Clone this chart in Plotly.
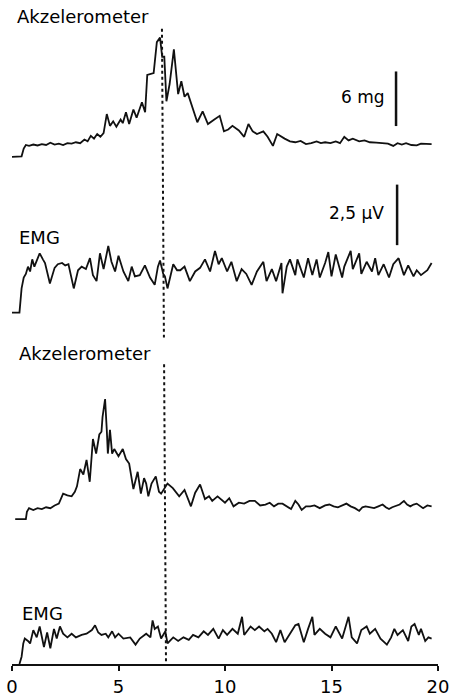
import plotly.graph_objects as go

# ---------------------------------------------------------------------------
# Recorded signals (time in s, acceleration in mg, EMG in µV above rest level)
# ---------------------------------------------------------------------------
acc1_t = [0.0, 0.45, 0.55, 0.65, 0.8, 1.0, 1.2, 1.4, 1.6, 1.8, 2.0, 2.2, 2.4, 2.6, 2.8, 3.0,
          3.2, 3.4, 3.55, 3.7, 3.85, 4.0, 4.15, 4.3, 4.45, 4.6, 4.75, 4.9, 5.1, 5.2, 5.35,
          5.5, 5.7, 5.85, 6.1, 6.25, 6.35, 6.5, 6.65, 6.8, 6.95, 7.05, 7.15, 7.25, 7.4, 7.6,
          7.7, 7.8, 7.95, 8.1, 8.25, 8.4, 8.55, 8.7, 8.95, 9.2, 9.5, 9.75, 9.95, 10.15, 10.35,
          10.65, 10.9, 11.1, 11.3, 11.5, 11.8, 12.0, 12.25, 12.45, 12.8, 13.05, 13.3, 13.55,
          13.8, 14.05, 14.3, 14.5, 14.7, 14.95, 15.2, 15.4, 15.6, 15.8, 16.0, 16.3, 16.55,
          16.8, 17.1, 17.4, 17.65, 17.9, 18.1, 18.3, 18.5, 18.75, 19.0, 19.2, 19.4, 19.7]
acc1_mg = [0.0, 0.05, 0.9, 1.3, 1.2, 1.35, 1.25, 1.4, 1.3, 1.55, 1.35, 1.45, 1.3, 1.5, 1.45, 1.6,
           1.5, 1.9, 1.7, 2.3, 2.0, 2.5, 2.2, 2.6, 4.7, 3.4, 3.9, 3.3, 4.1, 3.7, 4.9,
           3.6, 5.2, 4.3, 6.0, 4.9, 9.0, 9.1, 9.2, 12.6, 13.1, 11.0, 11.0, 6.1, 8.0, 11.8,
           9.0, 6.9, 8.3, 6.6, 7.0, 6.0, 5.0, 3.8, 5.0, 3.6, 4.1, 4.5, 2.8, 3.0, 3.4,
           2.9, 2.2, 3.6, 2.8, 2.5, 2.8, 2.2, 1.2, 2.5, 2.0, 1.7, 1.6, 1.75,
           1.4, 1.5, 1.7, 1.5, 1.6, 1.5, 1.7, 1.5, 2.2, 1.8, 2.0, 1.7, 1.8,
           1.6, 1.55, 1.5, 1.45, 1.2, 1.5, 1.35, 1.5, 1.3, 1.25, 1.45, 1.4, 1.4]

emg1_t = [0.0, 0.35, 0.45, 0.55, 0.65, 0.75, 0.85, 0.95, 1.05, 1.3, 1.45, 1.55, 1.78, 2.0, 2.15,
          2.35, 2.5, 2.65, 2.9, 3.1, 3.27, 3.47, 3.66, 3.8, 3.97, 4.13, 4.3, 4.4, 4.52, 4.67,
          4.84, 5.0, 5.23, 5.46, 5.62, 5.77, 6.0, 6.24, 6.48, 6.7, 6.85, 6.95, 7.1, 7.18, 7.3,
          7.57, 7.75, 7.9, 8.1, 8.35, 8.6, 8.83, 9.06, 9.3, 9.53, 9.7, 9.85, 10.1, 10.3, 10.55,
          10.78, 11.0, 11.25, 11.5, 11.8, 11.95, 12.2, 12.4, 12.65, 12.7, 12.9, 13.05, 13.3,
          13.4, 13.7, 13.9, 14.1, 14.3, 14.45, 14.7, 14.85, 15.0, 15.2, 15.5, 15.6, 15.9, 16.0,
          16.3, 16.4, 16.65, 16.9, 17.05, 17.2, 17.45, 17.7, 17.9, 18.15, 18.4, 18.6, 18.85,
          19.0, 19.2, 19.5, 19.7]
emg1_uv = [0.0, 0.0, 1.0, 1.45, 1.6, 1.9, 1.7, 2.2, 1.9, 2.45, 2.2, 2.05, 1.2, 1.85, 2.0,
           2.05, 1.95, 2.0, 1.0, 1.75, 1.9, 1.8, 2.25, 1.55, 1.3, 2.45, 1.8, 2.2, 2.75, 2.1,
           1.7, 2.35, 1.7, 1.3, 1.9, 1.5, 1.55, 1.95, 1.45, 1.15, 1.9, 2.15, 1.6, 1.5, 1.0,
           2.0, 1.75, 1.75, 1.9, 1.3, 1.7, 1.85, 2.2, 1.7, 2.55, 2.0, 2.25, 1.7, 2.1, 1.3,
           1.8, 1.6, 1.15, 1.7, 2.1, 1.3, 1.8, 1.3, 2.05, 0.8, 1.9, 2.2, 1.55,
           2.2, 1.45, 2.25, 1.55, 2.2, 1.45, 2.05, 2.5, 1.5, 2.4, 1.45, 1.9, 2.55, 1.8,
           2.45, 1.6, 2.1, 1.7, 2.25, 1.55, 2.0, 1.45, 2.0, 2.25, 1.55, 1.95, 1.5,
           1.75, 1.55, 1.75, 2.05]

acc2_t = [0.15, 0.65, 0.7, 0.8, 1.0, 1.2, 1.4, 1.6, 1.8, 2.0, 2.2, 2.4, 2.6, 2.8, 2.95, 3.05,
          3.2, 3.35, 3.5, 3.65, 3.8, 3.95, 4.1, 4.2, 4.25, 4.37, 4.45, 4.5, 4.6, 4.7, 4.8,
          5.0, 5.2, 5.35, 5.5, 5.7, 5.9, 6.05, 6.2, 6.3, 6.4, 6.55, 6.75, 6.9, 7.0, 7.15,
          7.3, 7.55, 7.85, 8.1, 8.4, 8.6, 8.83, 9.06, 9.25, 9.4, 9.65, 10.0, 10.2, 10.4,
          10.65, 10.9, 11.15, 11.4, 11.65, 11.9, 12.1, 12.3, 12.5, 12.7, 12.9, 13.1, 13.3,
          13.45, 13.6, 13.8, 14.0, 14.2, 14.45, 14.7, 14.9, 15.1, 15.3, 15.5, 15.7, 15.9,
          16.1, 16.3, 16.45, 16.6, 16.8, 17.0, 17.2, 17.4, 17.55, 17.7, 17.85, 18.0, 18.2,
          18.4, 18.55, 18.7, 18.85, 19.0, 19.15, 19.3, 19.5, 19.7]
acc2_mg = [0.0, 0.0, 0.8, 1.2, 1.0, 1.2, 1.1, 1.3, 1.2, 1.5, 1.7, 2.8, 2.6, 2.5, 3.0, 3.6,
           5.5, 4.9, 6.5, 4.1, 8.8, 7.2, 9.3, 9.6, 11.2, 13.2, 9.8, 7.2, 9.8, 7.2, 7.7,
           6.9, 7.7, 6.6, 6.1, 3.3, 5.2, 2.8, 4.5, 3.9, 2.5, 3.9, 4.7, 3.0, 2.8, 3.4,
           3.9, 3.4, 2.5, 3.2, 1.4, 2.9, 3.8, 2.2, 2.5, 2.0, 2.5, 1.8, 2.3, 1.4,
           1.8, 1.7, 2.0, 2.0, 1.5, 1.6, 1.8, 1.4, 1.7, 1.7, 1.4, 1.1, 2.0,
           1.6, 1.0, 1.4, 1.4, 1.5, 1.2, 1.5, 1.6, 1.4, 1.3, 1.5, 1.7, 1.4,
           1.2, 0.9, 1.3, 1.4, 1.3, 1.2, 1.4, 1.6, 1.3, 1.1, 1.3, 1.4, 1.6,
           2.0, 1.6, 1.4, 1.6, 1.7, 1.4, 1.2, 1.5, 1.4]

emg2_t = [0.35, 0.45, 0.53, 0.6, 0.75, 0.85, 1.0, 1.16, 1.3, 1.5, 1.65, 1.8, 1.97, 2.1, 2.25,
          2.4, 2.6, 2.8, 3.0, 3.27, 3.5, 3.75, 3.9, 4.05, 4.2, 4.4, 4.52, 4.7, 4.84, 5.0,
          5.23, 5.55, 5.8, 6.0, 6.3, 6.5, 6.6, 6.7, 6.85, 7.0, 7.2, 7.3, 7.57, 7.8, 8.05,
          8.3, 8.5, 8.75, 9.0, 9.2, 9.45, 9.7, 9.9, 10.1, 10.35, 10.6, 10.8, 10.9, 11.2,
          11.4, 11.6, 11.85, 12.0, 12.2, 12.4, 12.6, 12.8, 13.05, 13.3, 13.45, 13.7, 13.9,
          14.1, 14.2, 14.45, 14.7, 14.95, 15.2, 15.5, 15.7, 15.8, 15.95, 16.2, 16.4, 16.65,
          16.8, 17.05, 17.3, 17.6, 17.8, 17.95, 18.1, 18.35, 18.6, 18.75, 18.9, 19.1, 19.2,
          19.4, 19.55, 19.7]
emg2_uv = [0.0, 0.3, 0.85, 1.05, 0.95, 0.85, 1.4, 1.1, 1.55, 0.7, 1.3, 0.65, 1.45, 1.05, 1.55,
           1.25, 1.1, 1.25, 1.1, 1.2, 1.25, 1.4, 1.6, 1.3, 1.2, 1.25, 1.1, 1.35, 1.1, 1.25,
           1.05, 1.1, 0.8, 1.05, 1.25, 1.1, 1.8, 1.45, 1.55, 1.05, 1.35, 0.85, 1.1, 0.95, 1.1,
           1.0, 1.2, 1.1, 1.35, 1.2, 1.45, 1.05, 1.4, 1.2, 1.45, 1.25, 1.95, 1.2, 1.55,
           1.4, 1.55, 1.35, 1.45, 1.25, 0.9, 1.4, 0.9, 1.25, 1.6, 1.65, 0.9, 1.45,
           1.95, 1.2, 1.45, 1.25, 1.1, 1.55, 1.05, 1.65, 1.95, 1.1, 0.85, 1.4, 1.55,
           1.25, 1.45, 1.05, 0.8, 1.1, 1.45, 1.2, 1.4, 0.95, 1.55, 1.65, 1.2, 1.45,
           0.95, 1.1, 1.05]

# Calibration bars
scale_acc_mg = 6
scale_emg_uv = 2.5

# Time axis ticks
tick_vals = [0, 5, 10, 15, 20]
tick_text = ["0", "5", "10", "15", "20"]

# Time of the marked event
event_t = (7.04, 7.23)

# ---------------------------------------------------------------------------
# Page geometry
# ---------------------------------------------------------------------------
W, H = 452, 697
M_L, M_R, M_T, M_B = 12, 14, 0, 28
PLOT_H = H - M_T - M_B

ACC_PX_PER_MG = 55 / scale_acc_mg
EMG_PX_PER_UV = 61 / scale_emg_uv


def y_range(zero_px, px_per_unit):
    """Axis range placing value 0 at zero_px pixels below the top of the plot."""
    return [-(PLOT_H - zero_px) / px_per_unit, zero_px / px_per_unit]


# zero line (pixels from top) of each channel
ACC1_ZERO, EMG1_ZERO, ACC2_ZERO, EMG2_ZERO = 158, 315, 523, 669

INK = "#111111"
FONT = "DejaVu Sans"

fig = go.Figure()
for t, v, ax in [(acc1_t, acc1_mg, "y"), (emg1_t, emg1_uv, "y2"),
                 (acc2_t, acc2_mg, "y3"), (emg2_t, emg2_uv, "y4")]:
    fig.add_trace(go.Scatter(x=t, y=v, yaxis=ax, mode="lines",
                             line=dict(color=INK, width=1.8), hoverinfo="skip"))

hidden = dict(visible=False, fixedrange=True, showgrid=False, zeroline=False)
fig.update_layout(
    width=W, height=H,
    margin=dict(l=M_L, r=M_R, t=M_T, b=M_B, pad=0),
    paper_bgcolor="white", plot_bgcolor="white",
    showlegend=False,
    xaxis=dict(range=[0, 20], tickvals=tick_vals, ticktext=tick_text,
               showline=True, linecolor=INK, linewidth=2,
               ticks="outside", ticklen=5, tickwidth=2, tickcolor=INK,
               tickfont=dict(family=FONT, size=18, color="black"),
               showgrid=False, zeroline=False, fixedrange=True),
    yaxis=dict(range=y_range(ACC1_ZERO, ACC_PX_PER_MG), **hidden),
    yaxis2=dict(range=y_range(EMG1_ZERO, EMG_PX_PER_UV), overlaying="y", **hidden),
    yaxis3=dict(range=y_range(ACC2_ZERO, ACC_PX_PER_MG), overlaying="y", **hidden),
    yaxis4=dict(range=y_range(EMG2_ZERO, EMG_PX_PER_UV), overlaying="y", **hidden),
)

# Dotted event marker, interrupted by the second channel title
def paper_y(px_from_top):
    return 1 - px_from_top / PLOT_H


def t_at(px_from_top, top=29, bottom=PLOT_H):
    f = (px_from_top - top) / (bottom - top)
    return event_t[0] + f * (event_t[1] - event_t[0])


for a, b in [(29, 340), (367, PLOT_H)]:
    fig.add_shape(type="line", xref="x", yref="paper",
                  x0=t_at(a), y0=paper_y(a), x1=t_at(b), y1=paper_y(b),
                  line=dict(color=INK, width=2, dash="dot"))

# Calibration bars
acc_bar_base = (ACC1_ZERO - 127) / ACC_PX_PER_MG
emg_bar_base = (EMG1_ZERO - 247) / EMG_PX_PER_UV
fig.add_shape(type="line", xref="x", yref="y", x0=18.03, x1=18.03,
              y0=acc_bar_base, y1=acc_bar_base + scale_acc_mg,
              line=dict(color=INK, width=2.5))
fig.add_shape(type="line", xref="x", yref="y2", x0=18.08, x1=18.08,
              y0=emg_bar_base, y1=emg_bar_base + scale_emg_uv,
              line=dict(color=INK, width=2.5))

fig.add_annotation(x=17.62, y=(ACC1_ZERO - 98) / ACC_PX_PER_MG, xref="x", yref="y",
                   text=f"{scale_acc_mg} mg", showarrow=False, xanchor="right",
                   yanchor="middle", font=dict(family=FONT, size=17, color="black"))
fig.add_annotation(x=17.56, y=(EMG1_ZERO - 215) / EMG_PX_PER_UV, xref="x", yref="y2",
                   text=f"{scale_emg_uv}".replace(".", ",") + " µV", showarrow=False,
                   xanchor="right", yanchor="middle",
                   font=dict(family=FONT, size=17, color="black"))

# Channel titles
titles = [("Akzelerometer", 0.14, (ACC1_ZERO - 17) / ACC_PX_PER_MG, "y"),
          ("EMG", 0.23, (EMG1_ZERO - 239) / EMG_PX_PER_UV, "y2"),
          ("Akzelerometer", 0.23, (ACC2_ZERO - 356) / ACC_PX_PER_MG, "y3"),
          ("EMG", 0.38, (EMG2_ZERO - 618) / EMG_PX_PER_UV, "y4")]
for text, x, y, ax in titles:
    fig.add_annotation(x=x, y=y, xref="x", yref=ax, text=text, showarrow=False,
                       xanchor="left", yanchor="middle",
                       font=dict(family=FONT, size=18, color="black"))

fig.write_html("out.html")
